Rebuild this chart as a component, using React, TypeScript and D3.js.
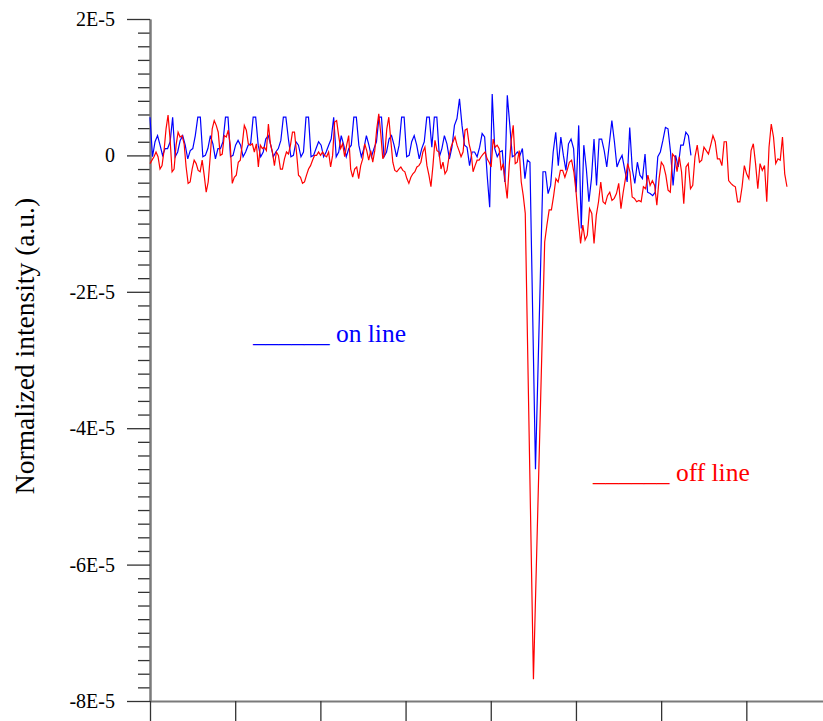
import React, { useRef, useEffect } from 'react';
import * as d3 from 'd3';

// Intensities are in units of 1E-5.
// "on line" (blue): left of the dip, the dip minimum, right of the dip
const onLineLeft = [
  0.56, -0.02, 0.2, 0.29, 0.15, 0.0, 0.1, 0.1, 0.2, 0.56, -0.02, 0.05, 0.22, 0.29, 0.15, -0.05, 0.07, 0.1, 0.29, 0.56,
  0.56, -0.02, 0.0, 0.1, 0.29, 0.17, -0.05, 0.1, 0.1, 0.2, 0.56, 0.56, -0.02, 0.0, 0.15, 0.22, 0.15, -0.02, 0.05, 0.15,
  0.17, 0.56, 0.56, 0.15, -0.02, 0.05, 0.24, 0.29, 0.15, -0.02, 0.05, 0.1, 0.22, 0.56, 0.56, 0.24, -0.02, 0.0, 0.2, 0.15,
  -0.02, 0.05, 0.56, 0.56, -0.02, 0.0, 0.1, 0.2, 0.15, -0.02, 0.05, 0.15, 0.24, 0.56, -0.02, 0.05, 0.29, 0.15, -0.02, 0.1,
  0.15, 0.56, 0.56, 0.15, -0.02, 0.1, 0.29, 0.15, -0.02, 0.1, 0.2, 0.56, 0.56, -0.02, 0.05, 0.24, 0.29, 0.15, -0.02, 0.15,
  0.56, 0.56, -0.02, 0.0, 0.2, 0.29, 0.15, -0.05, 0.1, 0.2, 0.56, 0.56, 0.12, 0.56, 0.56, -0.02, 0.1, 0.29, 0.17, -0.05,
  0.12, 0.44, 0.54, 0.83, 0.44, 0.15, 0.12, -0.15, 0.05, 0.05, -0.02, 0.12, 0.32, 0.27, -0.29, -0.76, 0.9,
  0.1, -0.02, 0.05, 0.07, -0.39, 0.88, 0.44, -0.02, 0.0, 0.05, 0.0, 0.1, -0.34, -0.07, -0.1,
];
const onLineDip = -4.6;
const onLineRight = [
  -0.24, -0.24, -0.56, -0.44, 0.05, 0.34, -0.15, 0.27, 0.0, -0.22, 0.17, 0.24, 0.1, -0.54, 0.44, -1.07, 0.15, -0.2, -0.68, -0.34,
  0.24, -0.44, 0.24, 0.24, 0.07, -0.17, 0.17, 0.51, 0.2, -0.17, -0.07, 0.0, -0.2, -0.39, 0.41, -0.2, -0.41, -0.1, -0.29, -0.34,
  0.02, -0.54, -0.56, -0.59, -0.54, -0.02, 0.05, 0.22, 0.41, 0.39, 0.05, -0.44, 0.0, -0.17, 0.15, 0.15, 0.34, 0.29, 0.0,
];

// "off line" (red)
const offLineLeft = [
  -0.12, -0.07, -0.02, 0.05, -0.02, -0.2, -0.15, 0.07, 0.39, 0.59, 0.24, -0.24, -0.2, 0.15, 0.34, 0.27, 0.29, 0.17, -0.17, -0.41,
  -0.39, -0.2, -0.07, -0.12, -0.22, -0.24, -0.07, -0.29, -0.54, -0.39, -0.02, 0.39, 0.51, 0.44, 0.34, 0.0, 0.02, 0.29, 0.27, 0.37,
  0.15, -0.41, -0.32, -0.29, -0.1, -0.07, 0.17, 0.44, 0.37, 0.17, 0.15, 0.17, 0.05, 0.17, -0.17, 0.15, 0.1, 0.12, 0.07, 0.46,
  0.17, 0.05, -0.15, 0.05, 0.0, -0.2, -0.2, -0.05, 0.05, 0.02, 0.15, 0.34, 0.34, 0.05, -0.29, -0.32, -0.41, -0.39, -0.29, -0.2,
  -0.15, -0.07, 0.0, 0.0, 0.05, 0.0, 0.05, 0.0, -0.02, 0.05, -0.17, 0.0, 0.49, 0.51, 0.29, 0.1, 0.17, -0.02, 0.15, 0.29,
  -0.2, -0.32, -0.2, -0.17, -0.34, -0.15, -0.05, 0.17, 0.07, -0.07, 0.07, -0.1, 0.07, 0.39, 0.61, 0.32, -0.05, 0.02, 0.39, 0.56,
  0.22, -0.1, -0.22, -0.24, -0.2, -0.17, -0.22, -0.24, -0.34, -0.41, -0.32, -0.27, -0.24, -0.17, -0.15, -0.1, 0.05, 0.12, -0.15, -0.29,
  -0.46, -0.15, 0.22, 0.07, 0.05, -0.2, -0.1, -0.27, -0.22, -0.02, 0.12, 0.2, 0.27, 0.15, 0.07, -0.02, 0.05, 0.37, 0.39, 0.17,
  0.05, -0.24, -0.15, -0.07, -0.07, -0.02, 0.02, 0.05, -0.05, -0.1, -0.17, 0.24, 0.12,
  0.15, 0.1, -0.22, -0.12, -0.39, -0.63, -0.15, 0.22, 0.44, -0.12, -0.1, 0.07, -0.39, -0.59, -0.85,
];
const offLineDip = -7.68;
const offLineRight = [
  -1.27, -1.02, -0.8, -0.8, -0.59, -0.34, -0.39, -0.22, -0.22, -0.32, -0.22, -0.1, -0.07, -0.24, -0.54, -0.93, -1.29, -1.02, -1.24, -1.17,
  -0.78, -0.85, -1.29, -0.88, -0.68, -0.39, -0.68, -0.71, -0.59, -0.54, -0.66, -0.63, -0.56, -0.41, -0.78, -0.54, -0.34, -0.12, -0.24, -0.61,
  -0.63, -0.68, -0.66, -0.68, -0.46, -0.49, -0.29, -0.44, -0.37, -0.44, -0.73, -0.34, -0.1, -0.15, -0.29, -0.51, -0.54, 0.02, -0.02, -0.24,
  -0.02, -0.24, -0.71, -0.17, -0.12, -0.49, -0.44, -0.02, 0.15, -0.1, -0.07, 0.12, 0.07, 0.02, 0.15, 0.29, 0.2, -0.05, -0.05, -0.15,
  0.2, 0.2, -0.37, -0.41, -0.44, -0.46, -0.68, -0.68, -0.46, -0.15, -0.27, -0.34, 0.07, 0.17, -0.12, -0.49, -0.12, -0.22, -0.15, -0.68,
  0.12, 0.46, 0.27, -0.12, -0.05, -0.07, 0.27, -0.27, -0.46,
];

// x extents of each piece (arbitrary channel units, ticks every 100)
const onLineX = { start: 0, leftEnd: 446, dip: 452.5, rightStart: 461.3, end: 635 };
const offLineX = { start: 0, leftEnd: 440.5, dip: 450.1, rightStart: 463.3, end: 747.7 };

const xTicks = [0, 100, 200, 300, 400, 500, 600, 700];
const yMajorTicks = [2, 0, -2, -4, -6, -8];
const yTickLabels = ['2E-5', '0', '-2E-5', '-4E-5', '-6E-5', '-8E-5'];

const FONT = '"Liberation Serif", "Times New Roman", serif';

const spread = (vals, x0, x1) =>
  vals.map((v, i) => [x0 + ((x1 - x0) * i) / (vals.length - 1), v]);

const buildSeries = (left, dip, right, ext) => [
  ...spread(left, ext.start, ext.leftEnd),
  [ext.dip, dip],
  ...spread(right, ext.rightStart, ext.end),
];

const App = () => {
  const svgRef = useRef(null);

  useEffect(() => {
    const width = 823;
    const height = 721;
    const svg = d3.select(svgRef.current);
    svg.selectAll('*').remove();
    svg.attr('width', width).attr('height', height);

    const x = d3.scaleLinear().domain([0, 790]).range([150, 823]);
    const y = d3.scaleLinear().domain([-8, 2]).range([701, 19]);

    // minor ticks every 0.2E-5
    const minor = d3.range(-8, 2.0001, 0.2).filter(v => !yMajorTicks.some(m => Math.abs(m - v) < 1e-6));

    const yMinorAxis = d3.axisLeft(y).tickValues(minor).tickSize(12).tickSizeOuter(0).tickFormat(() => '');
    svg.append('g').attr('class', 'y-minor').attr('transform', 'translate(150,0)').call(yMinorAxis);

    const yAxis = d3.axisLeft(y)
      .tickValues(yMajorTicks)
      .tickSize(23)
      .tickSizeOuter(0)
      .tickPadding(12)
      .tickFormat((d, i) => yTickLabels[i]);
    svg.append('g')
      .attr('class', 'y-axis')
      .attr('transform', 'translate(150,0)')
      .call(yAxis)
      .attr('font-family', FONT)
      .attr('font-size', 20);

    const xAxis = d3.axisBottom(x).tickValues(xTicks).tickSize(25).tickSizeOuter(0).tickFormat(() => '');
    svg.append('g').attr('class', 'x-axis').attr('transform', 'translate(0,701)').call(xAxis);

    svg.selectAll('.domain').attr('stroke', '#7a7a7a').attr('stroke-width', 2);
    svg.selectAll('.tick line').attr('stroke', '#333').attr('stroke-width', 1.3);
    svg.selectAll('.y-axis .tick text')
      .style('font-family', FONT)
      .style('font-size', '20px')
      .attr('fill', '#000');

    // axis title
    svg.append('text')
      .attr('transform', 'translate(34,346) rotate(-90)')
      .attr('text-anchor', 'middle')
      .style('font-family', FONT)
      .style('font-size', '27.5px')
      .attr('fill', '#000')
      .text('Normalized intensity (a.u.)');

    const line = d3.line().x(d => x(d[0])).y(d => y(d[1]));

    svg.append('path')
      .datum(buildSeries(onLineLeft, onLineDip, onLineRight, onLineX))
      .attr('fill', 'none')
      .attr('stroke', '#0000ff')
      .attr('stroke-width', 1.2)
      .attr('d', line);

    svg.append('path')
      .datum(buildSeries(offLineLeft, offLineDip, offLineRight, offLineX))
      .attr('fill', 'none')
      .attr('stroke', '#ff0000')
      .attr('stroke-width', 1.2)
      .attr('d', line);

    // in-plot labels
    svg.append('text')
      .attr('x', 253).attr('y', 342)
      .style('font-family', FONT).style('font-size', '25.5px')
      .attr('fill', '#0000ff')
      .style('white-space', 'pre')
      .text('______ on line');

    svg.append('text')
      .attr('x', 593).attr('y', 481)
      .style('font-family', FONT).style('font-size', '25.5px')
      .attr('fill', '#ff0000')
      .style('white-space', 'pre')
      .text('______ off line');
  }, []);

  return (
    <svg ref={svgRef} style={{ position: 'absolute', left: 0, top: 0, background: '#fff' }}></svg>
  );
};

export default App;
